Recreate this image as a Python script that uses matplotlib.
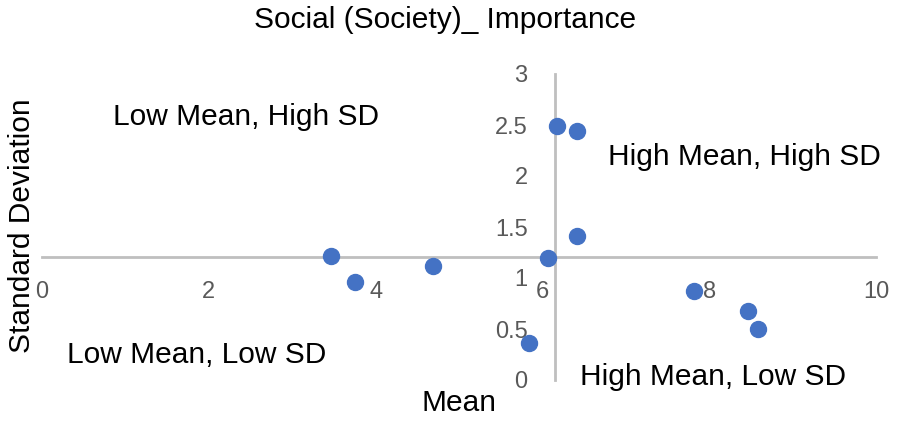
import numpy as np
import matplotlib.pyplot as plt

# mean and standard deviation of each item
mean = [3.47, 3.75, 4.69, 5.84, 6.07, 6.17, 6.42, 6.42, 7.82, 8.47, 8.59]
sd = [1.22, 0.96, 1.12, 0.36, 1.20, 2.49, 2.44, 1.415, 0.87, 0.68, 0.50]

x_ticks = [0, 2, 4, 6, 8, 10]
y_ticks = [0, 0.5, 1, 1.5, 2, 2.5, 3]
y_tick_labels = ['0', '0.5', '1', '1.5', '2', '2.5', '3']

quadrants = ['Low Mean, High SD', 'High Mean, High SD',
             'Low Mean, Low SD', 'High Mean, Low SD']

plt.rcParams['font.family'] = ['Liberation Sans', 'DejaVu Sans']

W, H = 897, 421
fig = plt.figure(figsize=(W / 100, H / 100), dpi=100)
ax = fig.add_axes([42 / W, 1 - 380 / H, (876 - 42) / W, (380 - 74) / H])

ax.scatter(mean, sd, s=11.5 ** 2, color='#4472C4', zorder=3, clip_on=False)

ax.set_xlim(0, 10)
ax.set_ylim(0, 3)

# axes cross at the averages
mx = np.mean(mean)
my = np.mean(sd)
ax.spines['left'].set_position(('data', mx))
ax.spines['bottom'].set_position(('data', my))
for side in ['right', 'top']:
    ax.spines[side].set_visible(False)
for side in ['left', 'bottom']:
    ax.spines[side].set_color('#BFBFBF')
    ax.spines[side].set_linewidth(2)

ax.set_xticks(x_ticks)
ax.set_xticklabels([str(t) for t in x_ticks])
ax.set_yticks(y_ticks)
ax.set_yticklabels(y_tick_labels)
ax.tick_params(axis='x', length=0, pad=17, labelsize=17, labelcolor='#595959')
ax.tick_params(axis='y', length=0, pad=20, labelsize=17, labelcolor='#595959')

def px_text(x, y, s, **kw):
    fig.text(x / W, 1 - y / H, s, fontsize=21.5, color='black', **kw)

px_text(445, 20, 'Social (Society)_ Importance', ha='center', va='center')
px_text(113, 117, quadrants[0], ha='left', va='center')
px_text(608, 157, quadrants[1], ha='left', va='center')
px_text(67, 355, quadrants[2], ha='left', va='center')
px_text(580, 377, quadrants[3], ha='left', va='center')
px_text(459, 403, 'Mean', ha='center', va='center')
px_text(22, 226, 'Standard Deviation', ha='center', va='center', rotation=90)

fig.savefig('out.png', dpi=100)
